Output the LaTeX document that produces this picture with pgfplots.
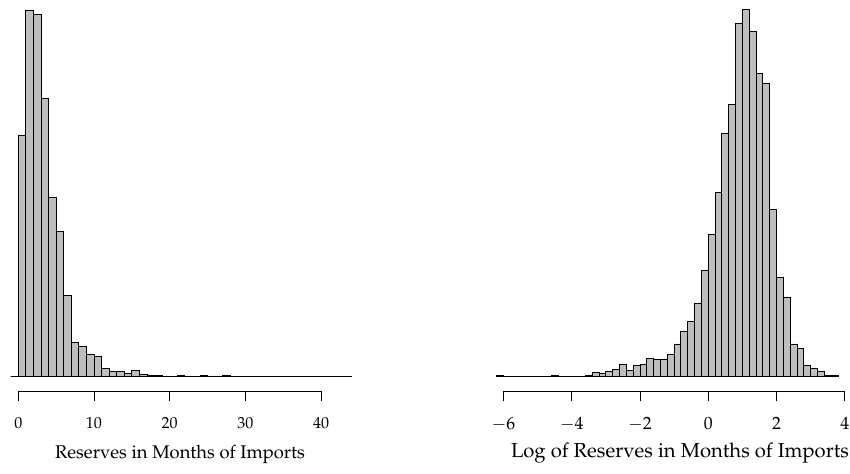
\documentclass[border=0pt]{standalone}
\usepackage[T1]{fontenc}
\usepackage{mathpazo}
\usepackage{pgfplots}
\pgfplotsset{compat=1.18}
\definecolor{bargrey}{RGB}{190,190,190}
\begin{document}
\begin{tikzpicture}
\pgfplotsset{
  common/.style={
    scale only axis,
    height=293.625pt,
    ymin=-14.8, ymax=376.7,
    axis x line*=bottom,
    hide y axis,
    x axis line style={draw=none},
    xtick align=outside,
    major tick length=7.1pt,
    tick style={black, line width=0.7pt},
    clip=false,
    xticklabel style={anchor=base, yshift=-20.8pt},
    xlabel style={anchor=base},
  },
  histbar/.style={ybar interval, fill=bargrey, draw=black, line width=0.7pt},
}
% Left histogram
\begin{axis}[common,
  at={(6.9pt,61.875pt)}, anchor=south west,
  width=258.9pt,
  xmin=-1.2, xmax=44.4,
  xtick={0,10,20,30,40},
  xticklabel style={font=\fontsize{12}{14}\selectfont},
  xlabel={Reserves in Months of Imports},
  xlabel style={font=\fontsize{13.8}{16}\selectfont, at={(axis description cs:0.4948,0)}, yshift=-50.6pt},
]
\addplot[histbar] coordinates {
(-1,0) (0,241) (1,366.7) (2,362.7) (3,278.7) (4,179.3) (5,145.3) (6,81)
(7,34) (8,30) (9,22) (10,20) (11,8.3) (12,5.5) (13,5.5) (14,3.3) (15,5.8)
(16,2.7) (17,1.7) (18,1) (19,0.4) (20,0.5) (21,1.3) (22,0.7) (23,0.5)
(24,1.4) (25,0.7) (26,0.4) (27,1) (28,0) (29,0) (30,0) (31,0) (32,0.4)
(33,0) (34,0) (35,0) (36,0) (37,0) (38,0) (39,0) (40,0.4) (41,0) (42,0)
(43,0.4) (44,0)
};
\addplot[black, line width=0.7pt] coordinates {(0,-14.8) (40,-14.8)};
\end{axis}
% Right histogram
\begin{axis}[common,
  at={(367.275pt,61.875pt)}, anchor=south west,
  width=266.4pt,
  xmin=-6.4, xmax=4.0,
  xtick={-6,-4,-2,0,2,4},
  major tick length=7.5pt,
  xticklabel style={font=\fontsize{13.3}{15}\selectfont},
  xlabel={Log of Reserves in Months of Imports},
  xlabel style={font=\fontsize{15.2}{18}\selectfont, at={(axis description cs:0.5358,0)}, yshift=-49.6pt},
]
\addplot[histbar] coordinates {
(-6.2,1) (-6.0,0) (-5.8,0) (-5.6,0) (-5.4,0) (-5.2,0) (-5.0,0) (-4.8,0)
(-4.6,1) (-4.4,0) (-4.2,0) (-4.0,0) (-3.8,0) (-3.6,1.3) (-3.4,4.3)
(-3.2,3) (-3.0,5.3) (-2.8,7.3) (-2.6,12.3) (-2.4,6) (-2.2,11.3) (-2.0,12.3)
(-1.8,18.3) (-1.6,17.7) (-1.4,17) (-1.2,22.4) (-1.0,32.7) (-0.8,45)
(-0.6,55) (-0.4,73.4) (-0.2,106) (0,142.4) (0.2,184) (0.4,243.4)
(0.6,272.4) (0.8,353.4) (1.0,367.4) (1.2,345) (1.4,303.4) (1.6,293)
(1.8,167.4) (2.0,99.4) (2.2,79.7) (2.4,32.7) (2.6,28.4) (2.8,11.4)
(3.0,8.4) (3.2,5.5) (3.4,1.3) (3.6,1.7) (3.8,0)
};
\addplot[black, line width=0.7pt] coordinates {(-6,-14.8) (4,-14.8)};
\end{axis}
\pgfresetboundingbox
\path (0,0) rectangle (637.5pt,355.5pt);
\end{tikzpicture}
\end{document}
